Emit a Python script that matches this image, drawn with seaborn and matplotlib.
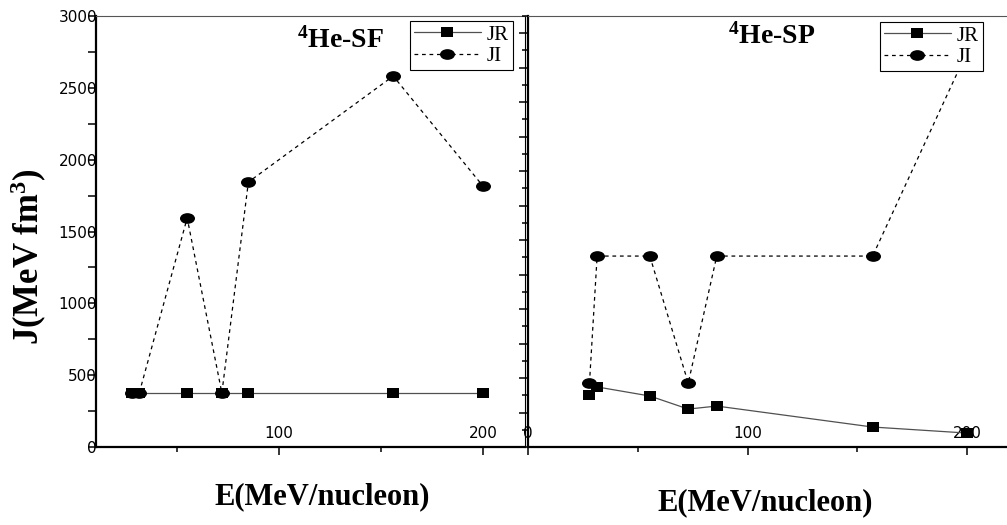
import numpy as np
import matplotlib
matplotlib.use("Agg")
import matplotlib.pyplot as plt
from matplotlib.path import Path
from matplotlib.transforms import Affine2D
from matplotlib.ticker import MultipleLocator
import seaborn as sns

# Energies (MeV/nucleon) and volume integrals J (MeV fm^3)
sf_energy = [28, 31.5, 55, 72, 85, 156, 200]
sf_jr = [376, 376, 376, 376, 376, 376, 376]
sf_ji = [376, 376, 1594, 376, 1844, 2582, 1816]

sp_energy = [28, 31.5, 55.5, 73, 86, 157, 200]
sp_jr = [362, 418, 355, 264, 285, 139, 97]
sp_ji = [445, 1329, 1329, 445, 1329, 1329, 2750]

panel_titles = [r"$^{\mathbf{4}}$He-SF", r"$^{\mathbf{4}}$He-SP"]
series_names = ["JR", "JI"]

sns.set_style("white")
plt.rcParams["font.family"] = ["DejaVu Sans"]
plt.rcParams["text.color"] = "black"
plt.rcParams["axes.labelcolor"] = "black"
plt.rcParams["xtick.color"] = "black"
plt.rcParams["ytick.color"] = "black"
plt.rcParams["mathtext.fontset"] = "custom"
plt.rcParams["mathtext.rm"] = "Liberation Serif"
plt.rcParams["mathtext.bf"] = "Liberation Serif:bold"
plt.rcParams["mathtext.it"] = "Liberation Serif:italic"

W, H = 1007, 525
fig = plt.figure(figsize=(W / 100, H / 100), dpi=100)
fig.patch.set_facecolor("white")


def fx(px):
    return px / W


def fy(py):
    return 1 - py / H


ax_l = fig.add_axes([fx(96), fy(447), fx(525 - 96), fy(16) - fy(447)])
ax_r = fig.add_axes([fx(528), fy(447), fx(W - 528), fy(16) - fy(447)])

# wide filled markers
ellipse = Affine2D().scale(1.4, 1.0).transform_path(Path.unit_circle())
square = Affine2D().translate(-0.5, -0.5).scale(1.3, 1.0).transform_path(Path.unit_rectangle())

serif = ["Liberation Serif", "DejaVu Serif"]


def draw(ax, x, jr, ji):
    sns.lineplot(x=x, y=jr, ax=ax, color="#505050", linewidth=0.9, linestyle="-",
                 marker=square, markersize=9.1, markerfacecolor="black",
                 markeredgecolor="black", markeredgewidth=0, label=series_names[0],
                 errorbar=None, sort=False)
    sns.lineplot(x=x, y=ji, ax=ax, color="black", linewidth=0.9, linestyle=(0, (3, 3)),
                 marker=ellipse, markersize=10.8, markerfacecolor="black",
                 markeredgecolor="black", markeredgewidth=0, label=series_names[1],
                 errorbar=None, sort=False)


draw(ax_l, sf_energy, sf_jr, sf_ji)
draw(ax_r, sp_energy, sp_jr, sp_ji)

# axis ranges
ax_l.set_xlim(10.3, 220.6)
ax_r.set_xlim(0, (W - 528) / 2.195)
for ax in (ax_l, ax_r):
    ax.set_ylim(0, 3000)
    ax.set_xlabel("")
    ax.set_ylabel("")
    ax.set_facecolor("white")
    ax.grid(False)
    ax.spines["bottom"].set_linewidth(1.6)
    ax.spines["bottom"].set_color("black")
    ax.spines["top"].set_linewidth(0.8)
    ax.spines["top"].set_color("#555555")
    ax.xaxis.set_major_locator(MultipleLocator(100))
    ax.xaxis.set_minor_locator(MultipleLocator(50))
    ax.tick_params(axis="x", which="major", direction="out", length=5.8, width=1.1,
                   pad=-21, labelsize=11, bottom=True, top=False, labelcolor="black")
    ax.tick_params(axis="x", which="minor", direction="out", length=3.6, width=1.1,
                   bottom=True, top=False)

# left panel y axis
ax_l.spines["left"].set_linewidth(1.6)
ax_l.spines["left"].set_color("black")
ax_l.spines["right"].set_linewidth(0.8)
ax_l.spines["right"].set_color("black")
ax_l.yaxis.set_major_locator(MultipleLocator(500))
ax_l.yaxis.set_minor_locator(MultipleLocator(250))
ax_l.tick_params(axis="y", which="major", direction="out", length=5.8, width=1.1,
                 pad=-6.5, labelsize=11, left=True, right=False, labelcolor="black")
ax_l.tick_params(axis="y", which="minor", direction="out", length=5.8, width=1.1,
                 left=True, right=False)

# right panel y axis (ticks only)
ax_r.spines["left"].set_linewidth(1.6)
ax_r.spines["left"].set_color("black")
ax_r.spines["right"].set_visible(False)
ax_r.yaxis.set_major_locator(MultipleLocator(240))
ax_r.yaxis.set_minor_locator(MultipleLocator(120))
ax_r.tick_params(axis="y", which="major", direction="out", length=6.5, width=1.1,
                 labelleft=False, left=True, right=False)
ax_r.tick_params(axis="y", which="minor", direction="out", length=4.3, width=1.1,
                 left=True, right=False)

# legends
for ax, (x1, y1) in ((ax_l, (513, 21)), (ax_r, (983, 22))):
    old = ax.get_legend()
    if old is not None:
        old.remove()
    handles, labels = ax.get_legend_handles_labels()
    leg = ax.legend(handles, labels, loc="upper right",
                    bbox_to_anchor=(fx(x1), fy(y1)), bbox_transform=fig.transFigure,
                    frameon=True, fancybox=False, framealpha=1, edgecolor="black",
                    prop={"family": serif, "size": 15}, handlelength=3.2,
                    handletextpad=0.3, borderpad=0.2, labelspacing=0.08,
                    borderaxespad=0)
    leg.get_frame().set_linewidth(0.8)
    leg.set_zorder(10)
    for t in leg.get_texts():
        t.set_color("black")

# panel titles
fig.text(fx(340), fy(40), panel_titles[0], family=serif, fontweight="bold",
         fontsize=20, ha="center", va="center", color="black")
fig.text(fx(772), fy(36), panel_titles[1], family=serif, fontweight="bold",
         fontsize=20, ha="center", va="center", color="black")

# axis titles
fig.text(fx(29), fy(257), r"J(MeV fm$^{\mathbf{3}}$)", family=serif, fontweight="bold",
         fontsize=25, rotation=90, ha="center", va="center", color="black")
fig.text(fx(322), fy(497), "E(MeV/nucleon)", family=serif, fontweight="bold",
         fontsize=22, ha="center", va="center", color="black")
fig.text(fx(765), fy(503), "E(MeV/nucleon)", family=serif, fontweight="bold",
         fontsize=22, ha="center", va="center", color="black")

fig.savefig("out.png", dpi=100, facecolor="white")
